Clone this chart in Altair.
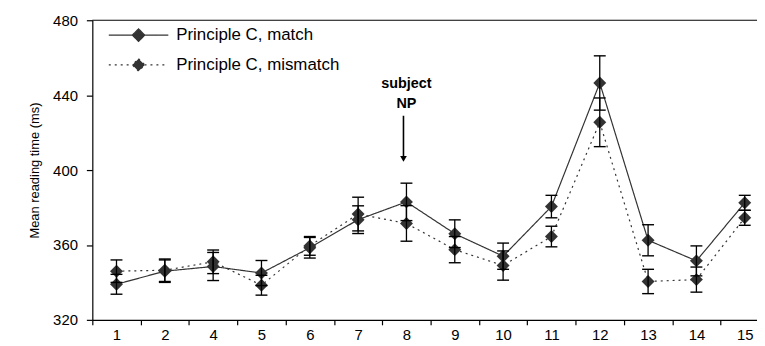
import altair as alt
import pandas as pd

positions = ["1", "2", "4", "5", "6", "7", "8", "9", "10", "11", "12", "13", "14", "15"]
series_names = ["Principle C, match", "Principle C, mismatch"]
match_mean = [339, 346, 348.5, 345, 358.5, 373.5, 383, 366, 354, 380.5, 446.5, 362.5, 351.5, 382.5]
match_se = [5.3, 6, 7.5, 6.7, 5.5, 7.4, 10, 7.4, 7, 6, 14.5, 8.3, 8, 4]
mismatch_mean = [346, 346.5, 351, 338.5, 359.5, 376.5, 371.5, 357.5, 349, 364.5, 425.5, 340.5, 341.5, 374.5]
mismatch_se = [6, 6, 6.3, 5.3, 5, 9, 9.5, 7, 7.8, 5.5, 13, 6.5, 6.7, 4]
y_ticks = [320, 360, 400, 440, 480]
y_title = "Mean reading time (ms)"

annot_pos = ["8", "8"]
annot_text = ["subject", "NP"]
annot_y = [446, 435.5]
arrow_from = [429]
arrow_to = [407]
arrow_tip = [406]
top_border = [480]

rows = []
for name, means, ses in zip(series_names, [match_mean, mismatch_mean], [match_se, mismatch_se]):
    for p, m, s in zip(positions, means, ses):
        rows.append({"pos": p, "series": name, "mean": m, "lo": m - s, "hi": m + s})
df = pd.DataFrame(rows)

FONT = "Liberation Sans"
DARK = "#333333"

xscale = alt.Scale(type="band", domain=positions, range=[0, 682], paddingInner=0, paddingOuter=0)
x_enc = alt.X("pos:N", scale=xscale,
              axis=alt.Axis(title=None, labelAngle=0, tickBand="extent", tickSize=5,
                            labelPadding=3, labelFontSize=15))
yscale = alt.Scale(domain=[320, 480], nice=False, zero=False)
y_axis = alt.Axis(values=y_ticks, title=y_title, tickSize=6, labelPadding=9,
                  labelFontSize=15, titleFontSize=13, titleFontWeight="normal",
                  titlePadding=11)

def yq(field):
    return alt.Y(field, scale=yscale, axis=y_axis, title=y_title)

base = alt.Chart(df)

lines = base.mark_line(color=DARK, strokeWidth=1.2).encode(
    x=x_enc, y=yq("mean:Q"),
    strokeDash=alt.StrokeDash(
        "series:N",
        scale=alt.Scale(domain=series_names, range=[[1, 0], [2, 4]]),
        legend=alt.Legend(
            title=None, orient="none", legendX=15.6, legendY=7, padding=0,
            symbolType="M-1,0H1M0,-0.21L0.21,0L0,0.21L-0.21,0Z",
            symbolSize=3600, symbolFillColor=DARK, symbolStrokeColor=DARK,
            symbolStrokeWidth=1.2, labelFontSize=17, labelFont=FONT,
            labelColor="black", labelOffset=7, rowPadding=13, clipHeight=16,
            labelLimit=400,
        ),
    ),
)

points = base.mark_point(shape="diamond", filled=True, size=170, color=DARK, opacity=1).encode(
    x=x_enc, y=yq("mean:Q"), detail="series:N"
)

err = base.mark_rule(color="black", strokeWidth=1.3).encode(
    x=x_enc, y=yq("lo:Q"), y2="hi:Q"
)
cap_lo = base.mark_tick(color="black", thickness=1.4, size=12, orient="horizontal", opacity=1).encode(
    x=x_enc, y=yq("lo:Q")
)
cap_hi = base.mark_tick(color="black", thickness=1.4, size=12, orient="horizontal", opacity=1).encode(
    x=x_enc, y=yq("hi:Q")
)

annot_df = pd.DataFrame({"pos": annot_pos, "v": annot_y, "t": annot_text})
annot = alt.Chart(annot_df).mark_text(
    font=FONT, fontSize=14.5, fontWeight="bold", color="black", baseline="middle", align="center"
).encode(x=x_enc, y=yq("v:Q"), text="t:N")

arrow_df = pd.DataFrame({"pos": ["8"], "a": arrow_from, "b": arrow_to, "c": arrow_tip})
arrow_line = alt.Chart(arrow_df).mark_rule(color="black", strokeWidth=1.6, xOffset=-3).encode(
    x=x_enc, y=yq("a:Q"), y2="b:Q"
)
arrow_head = alt.Chart(arrow_df).mark_point(
    shape="triangle-down", filled=True, size=45, color="black", opacity=1, xOffset=-3
).encode(x=x_enc, y=yq("c:Q"))

border_df = pd.DataFrame({"v": top_border})
border = alt.Chart(border_df).mark_rule(color="black", strokeWidth=1).encode(y=yq("v:Q"))

chart = alt.layer(
    border, lines, points, err, cap_lo, cap_hi, annot, arrow_line, arrow_head
).properties(
    width=670, height=302,
    autosize=alt.AutoSizeParams(type="none"),
    padding={"left": 85, "top": 11, "right": 0, "bottom": 25},
).configure_axis(
    labelFont=FONT, titleFont=FONT, labelColor="black", titleColor="black",
    domainColor="black", tickColor="black", grid=False, domainWidth=1.2, tickWidth=1.2,
).configure_view(stroke=None)

chart.save("out.html", embed_options={"renderer": "svg", "actions": False})
